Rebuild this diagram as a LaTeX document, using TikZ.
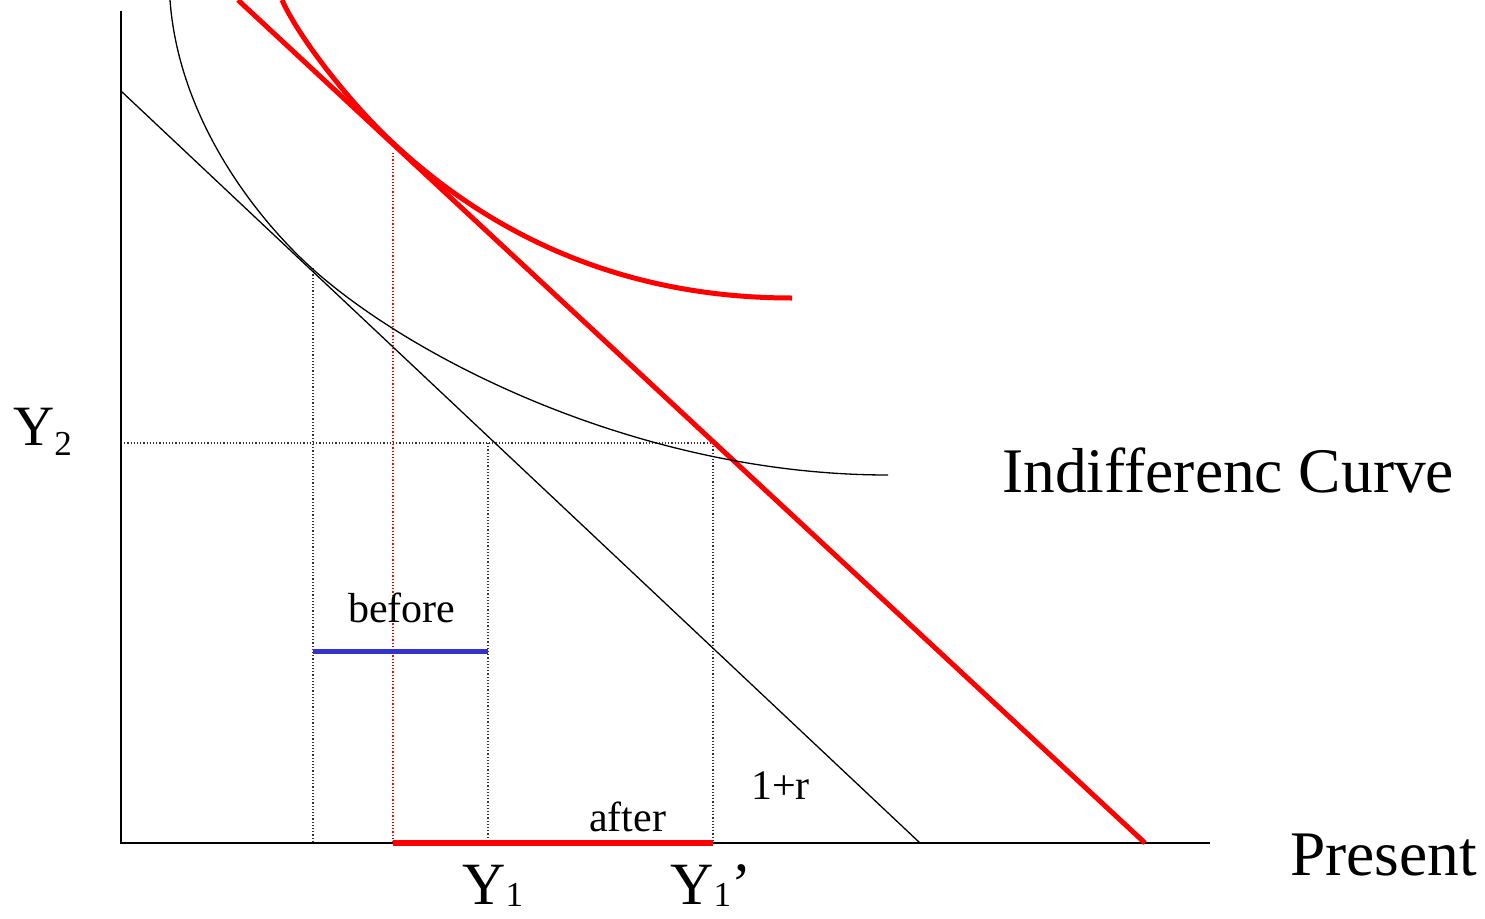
\documentclass[tikz,border=0pt]{standalone}
\usepackage{fontspec}
\setmainfont{Liberation Serif}
\definecolor{myred}{RGB}{255,0,0}
\definecolor{myblue}{RGB}{51,51,204}
\tikzset{
  axisline/.style={line width=1.5pt, black},
  budget/.style={line width=1.3pt, black},
  redthick/.style={myred, line width=5pt},
  guide/.style={line width=1.2pt, dash pattern=on 1.2pt off 2pt, black!80},
  redguide/.style={line width=1.2pt, dash pattern=on 1.2pt off 2pt, myred},
  smalllbl/.style={font=\fontsize{42}{48}\selectfont, inner sep=0pt},
  biglbl/.style={font=\fontsize{63.5}{70}\selectfont, inner sep=0pt},
  ylbl/.style={font=\fontsize{60}{64}\selectfont, inner sep=0pt},
}
\newcommand{\subsz}{\fontsize{35}{38}\selectfont}
\begin{document}
\begin{tikzpicture}[x=1pt, y=-1pt]
\useasboundingbox (0,0) rectangle (1485,918);
% coordinates
\coordinate (O) at (121,843);
\coordinate (ytop) at (121,11);
\coordinate (xend) at (1210,843);
\coordinate (bA) at (121,91);
\coordinate (bB) at (920,843);
\coordinate (rA) at (238,0);
\coordinate (rB) at (1145,843);
\coordinate (t1) at (313,268);
\coordinate (t1b) at (313,843);
\coordinate (t2) at (393,153);
\coordinate (t2b) at (393,843);
\coordinate (h0) at (121,443);
\coordinate (h1) at (488,443);
\coordinate (h1b) at (488,843);
\coordinate (h2) at (713,443);
\coordinate (h2b) at (713,843);
\coordinate (bl0) at (313,651);
\coordinate (bl1) at (488,651);
\coordinate (icA) at (170,0);
\coordinate (icT) at (305,262);
\coordinate (icE) at (888,475);
\coordinate (rcA) at (282,0);
\coordinate (rcT) at (393,143);
\coordinate (rcE) at (792,298);
% guides
\draw[guide] (t1) -- (t1b);
\draw[guide] (h0) -- (h2);
\draw[guide] (h1) -- (h1b);
\draw[guide] (h2) -- (h2b);
\draw[redguide] (t2) -- (t2b);
% axes
\draw[axisline] (ytop) -- (O) -- (xend);
% budget lines
\draw[budget] (bA) -- (bB);
\draw[redthick] (rA) -- (rB);
% black indifference curve
\draw[line width=1.3pt] (icA) .. controls (178,110) and (245,205) .. (icT)
  .. controls (405,356) and (638,475) .. (icE);
% red indifference curve
\draw[redthick] (rcA) .. controls (300,40) and (353,106) .. (rcT)
  .. controls (483,227) and (612,298) .. (rcE);
% segments
\draw[myblue, line width=5pt] (bl0) -- (bl1);
\draw[myred, line width=6pt] (t2b) -- (h2b);
% labels
\node[smalllbl, anchor=base west] (before) at (348,622) {before};
\node[smalllbl, anchor=base west] (after) at (589,831) {after};
\node[smalllbl, anchor=base west] (oner) at (751,799) {1+r};
\node[biglbl, anchor=base west] (ic) at (1002,492) {Indifferenc Curve};
\node[biglbl, anchor=base west] (present) at (1290,875) {Present};
\node[font=\fontsize{57}{62}\selectfont, inner sep=0pt, anchor=base west] (y2) at (13,445) {Y\raisebox{-10pt}{\subsz 2}};
\node[ylbl, anchor=base west] (y1) at (462,904) {Y\raisebox{-2pt}{\subsz 1}};
\node[ylbl, anchor=base west] (y1p) at (670,904) {Y\raisebox{-2pt}{\subsz 1}’};
\end{tikzpicture}
\end{document}
